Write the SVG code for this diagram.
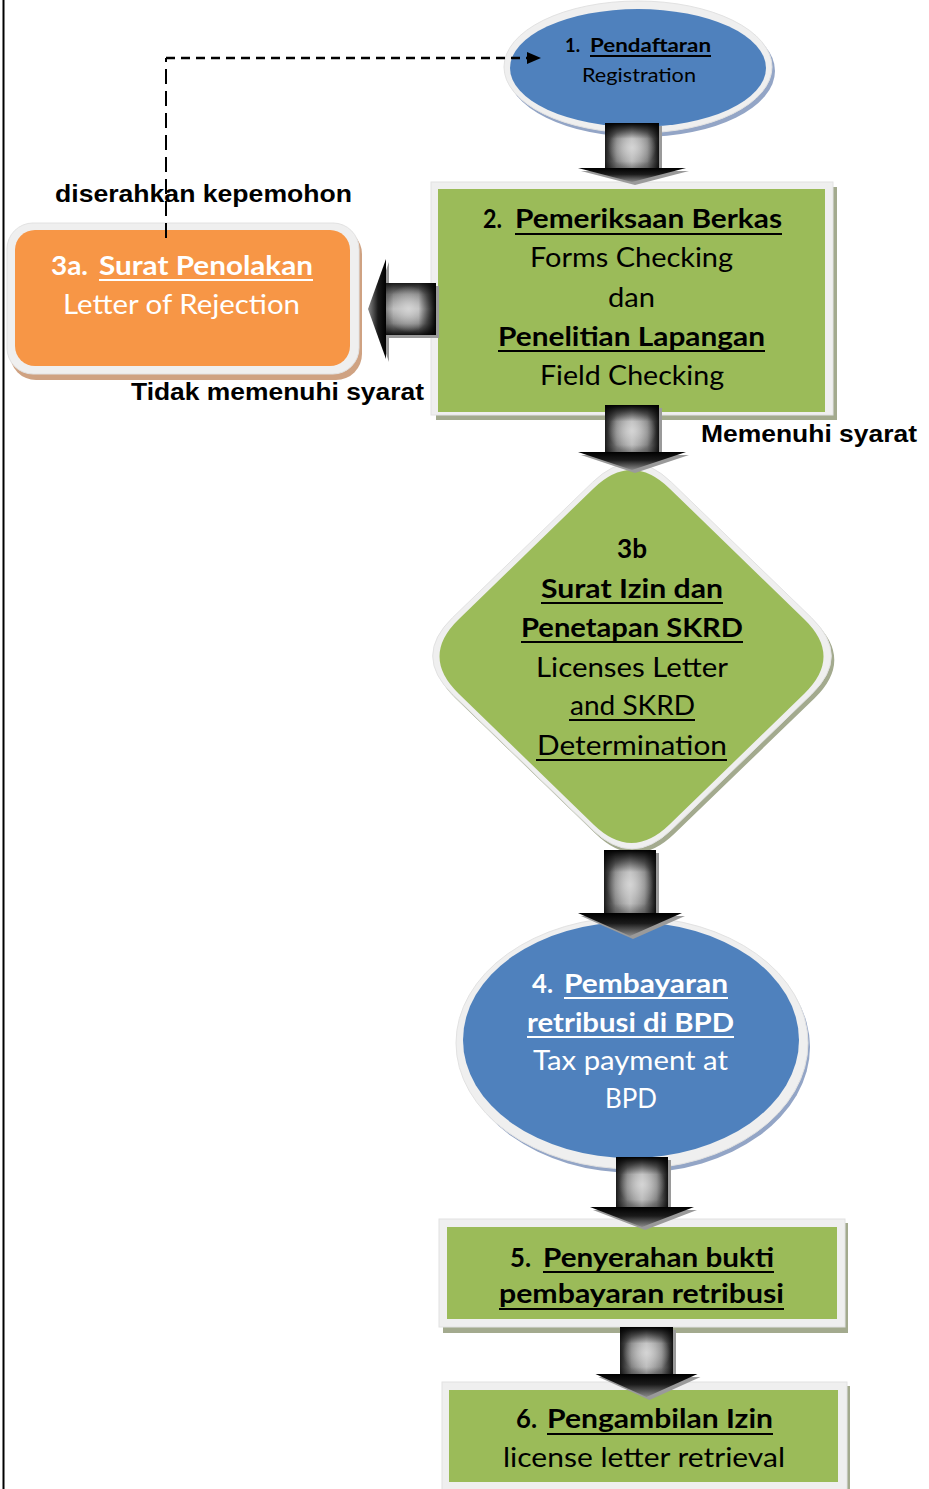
<svg xmlns="http://www.w3.org/2000/svg" width="929" height="1489" viewBox="0 0 929 1489">
<style>
.f{font-family:Lato,"Noto Sans",sans-serif;font-size:26px;fill:#000}
.w{fill:#fff}
.b{font-weight:700}
.lab{font-family:"Liberation Sans",Arial,sans-serif;font-weight:700;font-size:24px;fill:#000}
.ul{stroke:#000;stroke-width:2}
.ulw{stroke:#fff;stroke-width:2}
.ring{fill:#efefef;stroke:#e2e2e2;stroke-width:1}
.blue{fill:#4f81bd}
.green{fill:#9bbb59}
.orange{fill:#f79646}
.shb{fill:#93a5c6}
.shg{fill:#a3aa8e}
.sho{fill:#cfa282}
.ash{fill:#9a9a9a}
.sh1{fill:url(#gs)}
.sh2{fill:url(#gt)}
.sh3{fill:url(#gc)}
.hd{fill:url(#gh)}
.dash{fill:none;stroke:#000}
</style>
<defs>
<linearGradient id="gs" x1="0" y1="0" x2="1" y2="0">
<stop offset="0" stop-color="#1a1a1a"/>
<stop offset="0.22" stop-color="#7a7a7a"/>
<stop offset="0.5" stop-color="#b4b4b4"/>
<stop offset="0.78" stop-color="#7a7a7a"/>
<stop offset="1" stop-color="#111"/>
</linearGradient>
<radialGradient id="gc" cx="0.5" cy="0.55" r="0.45">
<stop offset="0" stop-color="#d8d8d8" stop-opacity="0.9"/>
<stop offset="1" stop-color="#d8d8d8" stop-opacity="0"/>
</radialGradient>
<linearGradient id="gt" x1="0" y1="0" x2="0" y2="1">
<stop offset="0" stop-color="#000" stop-opacity="1"/>
<stop offset="0.35" stop-color="#000" stop-opacity="0"/>
<stop offset="0.85" stop-color="#000" stop-opacity="0"/>
<stop offset="1" stop-color="#000" stop-opacity="0.25"/>
</linearGradient>
<linearGradient id="gh" x1="0" y1="0" x2="0" y2="1">
<stop offset="0" stop-color="#000"/>
<stop offset="0.45" stop-color="#1a1a1a"/>
<stop offset="1" stop-color="#8a8a8a"/>
</linearGradient>
<marker id="ah" markerWidth="14" markerHeight="12" refX="14" refY="6" orient="auto" markerUnits="userSpaceOnUse">
<path d="M0,0 L14,6 L0,12 Z" fill="#000"/>
</marker>
</defs>

<rect x="0" y="0" width="929" height="1489" fill="#fff"/>
<line x1="3.5" y1="0" x2="3.5" y2="1489" stroke="#000" stroke-width="2"/>

<g id="node1">
<ellipse class="shb" cx="641" cy="71" rx="134" ry="66"/>
<ellipse class="ring" cx="638" cy="67" rx="134" ry="66"/>
<ellipse class="blue" cx="638" cy="68" rx="128" ry="59"/>
<text class="f" style="font-size:19px" y="52"><tspan class="b" x="565" textLength="15" lengthAdjust="spacingAndGlyphs">1.</tspan> <tspan class="b" x="590" textLength="121" lengthAdjust="spacingAndGlyphs">Pendaftaran</tspan></text>
<line class="ul" x1="590" y1="56" x2="711" y2="56"/>
<text class="f" style="font-size:19px" x="582" y="82" textLength="114" lengthAdjust="spacingAndGlyphs">Registration</text>
</g>

<g id="node2">
<rect class="shg" x="436" y="187" width="401" height="233"/>
<rect class="ring" x="431" y="182" width="402" height="233"/>
<rect class="green" x="438" y="189" width="387" height="223"/>
<text class="f b" y="228"><tspan x="483" textLength="19" lengthAdjust="spacingAndGlyphs">2.</tspan> <tspan x="515" textLength="267" lengthAdjust="spacingAndGlyphs">Pemeriksaan Berkas</tspan></text>
<line class="ul" x1="515" y1="234" x2="782" y2="234"/>
<text class="f" x="530" y="267" textLength="203" lengthAdjust="spacingAndGlyphs">Forms Checking</text>
<text class="f" x="608" y="307" textLength="47" lengthAdjust="spacingAndGlyphs">dan</text>
<text class="f b" x="498" y="346" textLength="267" lengthAdjust="spacingAndGlyphs">Penelitian Lapangan</text>
<line class="ul" x1="498" y1="351" x2="765" y2="351"/>
<text class="f" x="540" y="385" textLength="184" lengthAdjust="spacingAndGlyphs">Field Checking</text>
</g>

<g id="node3a">
<rect class="sho" x="10" y="228" width="352" height="152" rx="26"/>
<rect class="ring" x="7" y="223" width="352" height="151" rx="26"/>
<rect class="orange" x="15" y="230" width="335" height="136" rx="20"/>
<text class="f w b" y="275"><tspan x="51" textLength="37" lengthAdjust="spacingAndGlyphs">3a.</tspan> <tspan x="99" textLength="214" lengthAdjust="spacingAndGlyphs">Surat Penolakan</tspan></text>
<line class="ulw" x1="99" y1="280" x2="313" y2="280"/>
<text class="f w" x="63" y="314" textLength="237" lengthAdjust="spacingAndGlyphs">Letter of Rejection</text>
</g>

<g id="node3b">
<path class="shg" transform="translate(3,4)" d="M 592.6 482.2 Q 632 444 671.4 482.2 L 811.6 617.8 Q 851 656 811.6 694.2 L 671.4 829.8 Q 632 868 592.6 829.8 L 452.4 694.2 Q 413 656 452.4 617.8 Z"/>
<path class="ring" d="M 592.6 482.2 Q 632 444 671.4 482.2 L 811.6 617.8 Q 851 656 811.6 694.2 L 671.4 829.8 Q 632 868 592.6 829.8 L 452.4 694.2 Q 413 656 452.4 617.8 Z"/>
<path class="green" d="M 593.5 488.4 Q 631.5 451.5 669.5 488.4 L 804.5 619.6 Q 842.5 656.5 804.5 693.4 L 669.5 824.6 Q 631.5 861.5 593.5 824.6 L 458.5 693.4 Q 420.5 656.5 458.5 619.6 Z"/>
<text class="f b" x="617" y="558" textLength="30" lengthAdjust="spacingAndGlyphs">3b</text>
<text class="f b" x="541" y="598" textLength="182" lengthAdjust="spacingAndGlyphs">Surat Izin dan</text>
<line class="ul" x1="541" y1="603" x2="723" y2="603"/>
<text class="f b" x="521" y="637" textLength="222" lengthAdjust="spacingAndGlyphs">Penetapan SKRD</text>
<line class="ul" x1="521" y1="642" x2="743" y2="642"/>
<text class="f" x="536" y="677" textLength="192" lengthAdjust="spacingAndGlyphs">Licenses Letter</text>
<text class="f" x="570" y="715" textLength="125" lengthAdjust="spacingAndGlyphs">and SKRD</text>
<line class="ul" x1="569" y1="720" x2="695" y2="720"/>
<text class="f" x="537" y="755" textLength="190" lengthAdjust="spacingAndGlyphs">Determination</text>
<line class="ul" x1="536" y1="760" x2="727" y2="760"/>
</g>

<g id="node4">
<ellipse class="shb" cx="635" cy="1047" rx="175" ry="126"/>
<ellipse class="ring" cx="632" cy="1043" rx="176" ry="126"/>
<ellipse class="blue" cx="631" cy="1040" rx="168" ry="118"/>
<text class="f w b" y="993"><tspan x="532" textLength="21" lengthAdjust="spacingAndGlyphs">4.</tspan> <tspan x="564" textLength="164" lengthAdjust="spacingAndGlyphs">Pembayaran</tspan></text>
<line class="ulw" x1="564" y1="998" x2="728" y2="998"/>
<text class="f w b" x="527" y="1032" textLength="207" lengthAdjust="spacingAndGlyphs">retribusi di BPD</text>
<line class="ulw" x1="527" y1="1037" x2="734" y2="1037"/>
<text class="f w" x="533" y="1070" textLength="195" lengthAdjust="spacingAndGlyphs">Tax payment at</text>
<text class="f w" x="605" y="1108" textLength="52" lengthAdjust="spacingAndGlyphs">BPD</text>
</g>

<g id="node5">
<rect class="shg" x="443" y="1223" width="405" height="110"/>
<rect class="ring" x="439" y="1219" width="406" height="108"/>
<rect class="green" x="447" y="1227" width="390" height="92"/>
<text class="f b" y="1267"><tspan x="510" textLength="21" lengthAdjust="spacingAndGlyphs">5.</tspan> <tspan x="543" textLength="231" lengthAdjust="spacingAndGlyphs">Penyerahan bukti</tspan></text>
<line class="ul" x1="543" y1="1272" x2="774" y2="1272"/>
<text class="f b" x="499" y="1303" textLength="285" lengthAdjust="spacingAndGlyphs">pembayaran retribusi</text>
<line class="ul" x1="499" y1="1309" x2="784" y2="1309"/>
</g>

<g id="node6">
<rect class="shg" x="446" y="1386" width="404" height="110"/>
<rect class="ring" x="442" y="1382" width="405" height="110"/>
<rect class="green" x="449" y="1390" width="389" height="92"/>
<text class="f b" y="1428"><tspan x="516" textLength="21" lengthAdjust="spacingAndGlyphs">6.</tspan> <tspan x="547" textLength="226" lengthAdjust="spacingAndGlyphs">Pengambilan Izin</tspan></text>
<line class="ul" x1="547" y1="1434" x2="773" y2="1434"/>
<text class="f" x="503" y="1467" textLength="282" lengthAdjust="spacingAndGlyphs">license letter retrieval</text>
</g>

<g id="connectors">
<path class="dash" stroke-width="2" stroke-dasharray="15 7" d="M166,238 L166,58"/>
<path class="dash" stroke-width="2.5" stroke-dasharray="9 6" d="M166,58 L541,58" marker-end="url(#ah)"/>

<g transform="translate(632,123)">
<g class="ash" transform="translate(3,3)"><rect x="-27" y="0" width="54" height="45"/><polygon points="-54,45 54,45 0,59"/></g>
<rect class="sh1" x="-27" y="0" width="54" height="45"/><rect class="sh3" x="-27" y="0" width="54" height="45"/><rect class="sh2" x="-27" y="0" width="54" height="45"/>
<polygon class="hd" points="-54,45 54,45 0,59"/>
</g>
<g transform="translate(436,309) rotate(90)">
<g class="ash" transform="translate(3,-3)"><rect x="-26" y="0" width="52" height="50"/><polygon points="-50,50 50,50 0,68"/></g>
<rect class="sh1" x="-26" y="0" width="52" height="50"/><rect class="sh3" x="-26" y="0" width="52" height="50"/><rect class="sh2" x="-26" y="0" width="52" height="50"/>
<polygon class="hd" points="-50,50 50,50 0,68"/>
</g>
<g transform="translate(632,405)">
<g class="ash" transform="translate(3,3)"><rect x="-27" y="0" width="54" height="47"/><polygon points="-54,47 54,47 0,65"/></g>
<rect class="sh1" x="-27" y="0" width="54" height="47"/><rect class="sh3" x="-27" y="0" width="54" height="47"/><rect class="sh2" x="-27" y="0" width="54" height="47"/>
<polygon class="hd" points="-54,47 54,47 0,65"/>
</g>
<g transform="translate(630,850)">
<g class="ash" transform="translate(3,3)"><rect x="-26" y="0" width="52" height="63"/><polygon points="-52,63 52,63 0,86"/></g>
<rect class="sh1" x="-26" y="0" width="52" height="63"/><rect class="sh3" x="-26" y="0" width="52" height="63"/><rect class="sh2" x="-26" y="0" width="52" height="63"/>
<polygon class="hd" points="-52,63 52,63 0,86"/>
</g>
<g transform="translate(642,1157)">
<g class="ash" transform="translate(3,3)"><rect x="-26" y="0" width="52" height="50"/><polygon points="-52,50 52,50 0,70"/></g>
<rect class="sh1" x="-26" y="0" width="52" height="50"/><rect class="sh3" x="-26" y="0" width="52" height="50"/><rect class="sh2" x="-26" y="0" width="52" height="50"/>
<polygon class="hd" points="-52,50 52,50 0,70"/>
</g>
<g transform="translate(646.5,1327)">
<g class="ash" transform="translate(3,3)"><rect x="-26.5" y="0" width="53" height="47"/><polygon points="-51,47 51,47 0,70"/></g>
<rect class="sh1" x="-26.5" y="0" width="53" height="47"/><rect class="sh3" x="-26.5" y="0" width="53" height="47"/><rect class="sh2" x="-26.5" y="0" width="53" height="47"/>
<polygon class="hd" points="-51,47 51,47 0,70"/>
</g>
</g>

<g id="labels">
<text class="lab" x="55" y="202" textLength="297" lengthAdjust="spacingAndGlyphs">diserahkan kepemohon</text>
<text class="lab" x="131" y="400" textLength="293" lengthAdjust="spacingAndGlyphs">Tidak memenuhi syarat</text>
<text class="lab" x="701" y="442" textLength="216" lengthAdjust="spacingAndGlyphs">Memenuhi syarat</text>
</g>
</svg>
